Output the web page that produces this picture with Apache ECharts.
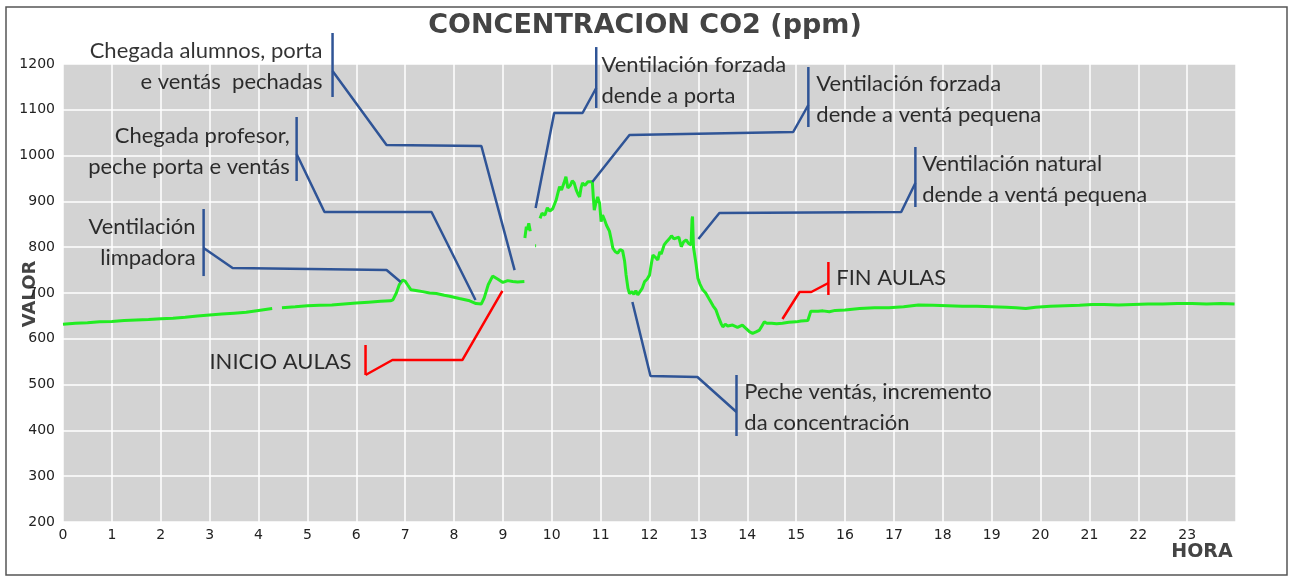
<!DOCTYPE html>
<html>
<head>
<meta charset="utf-8">
<script src="https://cdn.jsdelivr.net/npm/echarts@6/dist/echarts.min.js"></script>
<style>html,body{margin:0;padding:0;background:#fff}#c{width:1290px;height:576px}</style>
</head>
<body>
<div id="c"></div>
<script>
// ---- DATA ----
const hours = [0,0.25,0.5,0.75,1.0,1.25,1.5,1.75,2.0,2.25,2.5,2.75,3.0,3.25,3.5,3.75,4.0,4.28,4.3,4.48,4.75,5.0,5.25,5.5,5.75,6.0,6.25,6.5,6.7,
6.75,6.82,6.88,6.95,7.0,7.05,7.12,7.25,7.36,7.5,7.64,7.8,7.91,8.11,8.32,8.45,8.56,8.62,8.7,8.79,8.9,9.0,9.1,9.2,9.3,9.44,9.445,
9.45,9.48,9.5,9.53,9.56,9.6,9.66,9.68,9.7,
9.76,9.8,9.86,9.91,9.96,10.02,10.09,10.13,10.16,10.2,10.25,10.29,10.33,10.38,10.42,10.46,10.5,10.54,10.57,10.6,10.63,10.68,10.74,10.78,10.83,10.85,10.87,10.9,10.94,10.98,
11.01,11.04,11.08,11.12,11.18,11.22,11.25,11.3,11.35,11.4,11.45,11.49,11.52,11.56,11.59,11.64,11.68,11.72,11.76,11.79,11.85,11.9,11.95,
12.0,12.04,12.07,12.12,12.17,12.21,12.24,12.3,12.35,12.41,12.45,12.5,12.54,12.6,12.65,12.7,12.75,12.8,12.85,12.87,12.88,12.9,12.92,12.95,12.99,
13.03,13.09,13.15,13.23,13.3,13.36,13.42,13.47,13.5,13.55,13.6,13.7,13.8,13.9,14.0,14.05,14.11,14.18,14.25,14.3,14.35,14.4,14.5,14.6,14.72,14.85,
15.0,15.1,15.24,15.3,15.33,15.45,15.55,15.68,15.8,16.0,16.3,16.6,16.9,17.2,17.5,17.8,18.1,18.4,18.7,19.0,19.3,19.5,19.7,19.9,
20.2,20.5,20.8,21.06,21.3,21.6,21.9,22.2,22.5,22.8,23.1,23.4,23.7,23.97];
const co2 = [632,634,635,637,638,640,641,642,644,645,647,650,652,654,656,658,662,666,null,668,670,672,673,674,676,678,680,682,683,
685,700,718,728,726,718,707,705,703,700,699,695,693,688,683,677,676,690,718,737,730,723,727,725,724,725,null,
820,845,838,852,835,null,803,803,null,
863,874,870,886,879,884,903,920,932,925,940,954,929,935,945,940,925,915,910,930,940,935,943,945,943,910,881,895,910,895,
856,870,860,848,835,815,798,790,787,795,792,770,740,710,699,703,697,705,696,693,710,725,730,
739,765,783,778,772,790,785,805,812,819,825,818,816,822,801,812,816,808,805,860,867,800,798,765,732,
720,707,700,685,672,663,645,632,626,632,628,630,625,630,620,615,612,615,619,628,637,634,634,633,634,636,
637,639,640,660,663,660,661,659,662,663,666,668,668,670,674,673,672,671,671,670,669,668,666,669,
671,672,673,675,675,674,675,676,676,677,677,676,677,676];

const yTicks = [200,300,400,500,600,700,800,900,1000,1100,1200];
const xTicks = [0,1,2,3,4,5,6,7,8,9,10,11,12,13,14,15,16,17,18,19,20,21,22,23];

// annotation callouts in data units (hour, ppm)
const noteTexts = [
  'Chegada alumnos, porta\ne ventás  pechadas',
  'Chegada profesor,\npeche porta e ventás',
  'Ventilación\nlimpadora',
  'INICIO AULAS',
  'Ventilación forzada\ndende a porta',
  'Ventilación forzada\ndende a ventá pequena',
  'Ventilación natural\ndende a ventá pequena',
  'FIN AULAS',
  'Peche ventás, incremento\nda concentración'
];
const noteAnchors = [[5.31,1195.6],[4.64,1010],[2.713,811.4],[5.903,549.3],[11.016,1165],[15.413,1123.6],[17.58,949],[15.82,732.8],[13.94,451]];
const noteSides = ['left','left','left','left','right','right','right','right','right'];
const noteColors = ['blue','blue','blue','red','blue','blue','blue','red','blue'];
const noteBars = [[5.515,1267.7,1128],[4.78,1084.3,944.5],[2.877,883.4,737],[6.19,586.5,521],[10.91,1237,1104],[15.25,1193.4,1062.4],[17.44,1018.8,887.8],[15.66,767.7,695.6],[13.78,521,387.8]];
const notePaths = [
  [[5.515,1184.7],[6.62,1023],[8.56,1021],[9.24,750]],
  [[4.78,1003.5],[5.35,876.9],[7.54,876.9],[8.44,684.7]],
  [[2.877,798.2],[3.47,754.6],[6.62,750.2],[6.91,724]],
  [[6.19,521],[6.74,553.7],[8.17,553.7],[8.99,704.4]],
  [[10.91,1147.6],[10.63,1093],[10.05,1093],[9.67,885.6]],
  [[15.25,1110.5],[14.94,1051.5],[11.59,1045],[10.83,942.4]],
  [[17.44,940.2],[17.15,876.9],[13.43,874.7],[13.0,817.9]],
  [[15.66,721.8],[15.31,702.2],[15.07,702.2],[14.72,643.2]],
  [[13.78,440.2],[12.98,516.6],[12.02,518.8],[11.65,680.3]]
];

// ---- CHART ----
const COL = {blue:'#2f5496', red:'#ff0000'};
const chart = echarts.init(document.getElementById('c'), null, {renderer:'canvas'});
const series = [];
series.push({
  type:'line', name:'CO2', data: hours.map((h,i)=>[h, co2[i]]),
  showSymbol:false, connectNulls:false, lineStyle:{color:'#22ec22', width:3}, z:3, animation:false
});
noteBars.forEach((b,i)=>{
  series.push({type:'line', data:[[b[0],b[1]],[b[0],b[2]]], showSymbol:false, clip:false,
    lineStyle:{color:COL[noteColors[i]], width:2.5}, z:4, animation:false, silent:true});
  series.push({type:'line', data:notePaths[i], showSymbol:false, clip:false,
    lineStyle:{color:COL[noteColors[i]], width:2.5}, z:4, animation:false, silent:true});
});
series.push({
  type:'scatter', symbolSize:0, clip:false, animation:false, silent:true, z:5,
  data: noteAnchors.map((p,i)=>({value:p, label:{
    show:true, formatter: noteTexts[i], position: noteSides[i], distance:0,
    align: noteSides[i]==='left' ? 'right' : 'left', verticalAlign:'middle',
    fontFamily:'Lato', fontSize:22, lineHeight:31, color:'#000'
  }}))
});

chart.setOption({
  animation:false,
  backgroundColor:'#ffffff',
  title:{text:'CONCENTRACION CO2 (ppm)', left:'center', top:7,
    textStyle:{fontFamily:'DejaVu Sans', fontWeight:'bold', fontSize:27, color:'#444'}},
  grid:{left:63, right:54, top:64, bottom:54, show:true, backgroundColor:'#d3d3d3', borderWidth:0},
  xAxis:{type:'value', min:0, max:24, interval:1,
    axisLine:{show:false}, axisTick:{show:false},
    axisLabel:{fontFamily:'DejaVu Sans', fontSize:14, color:'#222', margin:6,
      formatter:v=> xTicks.indexOf(v)>=0 ? String(v) : ''},
    splitLine:{show:true, lineStyle:{color:'#ffffff', width:1.5}}},
  yAxis:{type:'value', min:200, max:1200, interval:100,
    axisLine:{show:false}, axisTick:{show:false},
    axisLabel:{fontFamily:'DejaVu Sans', fontSize:14, color:'#222', margin:8,
      formatter:v=> yTicks.indexOf(v)>=0 ? String(v) : ''},
    splitLine:{show:true, lineStyle:{color:'#ffffff', width:1.5}}},
  graphic:[
    {type:'rect', shape:{x:6, y:7, width:1281, height:568}, style:{fill:'none', stroke:'#555', lineWidth:1.5}, silent:true},
    {type:'text', x:30, y:294, rotation:Math.PI/2, style:{text:'VALOR', fontFamily:'DejaVu Sans', fontWeight:'bold', fontSize:18, fill:'#444', align:'center', verticalAlign:'middle'}},
    {type:'text', x:1202, y:552, style:{text:'HORA', fontFamily:'DejaVu Sans', fontWeight:'bold', fontSize:19, fill:'#444', align:'center', verticalAlign:'middle'}}
  ],
  series: series
});
</script>
</body>
</html>
